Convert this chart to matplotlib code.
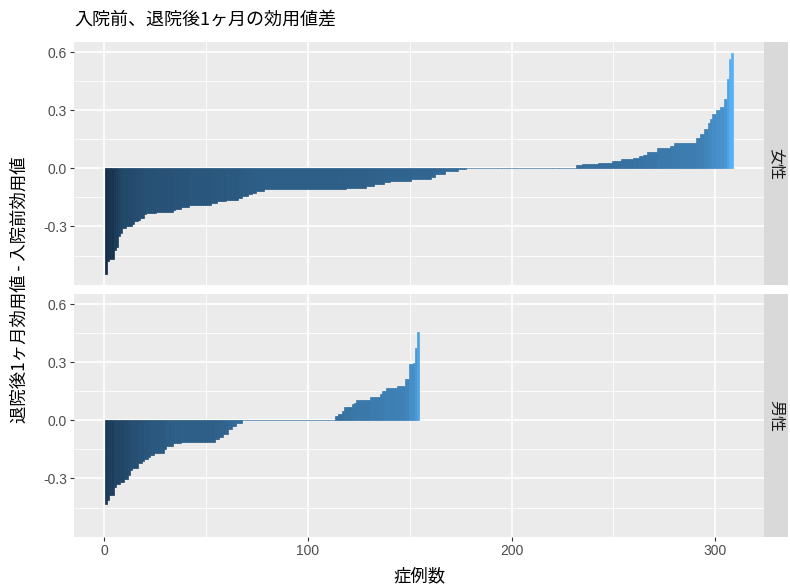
import numpy as np
import matplotlib
matplotlib.use("Agg")
import matplotlib.pyplot as plt
from matplotlib.colors import LinearSegmentedColormap, Normalize
from matplotlib.ticker import MultipleLocator

plt.rcParams['font.family'] = ['Noto Sans CJK JP', 'DejaVu Sans']

# utility difference per patient, sorted ascending, stored as (value, count) runs
female_vals = [-0.545, -0.48, -0.466, -0.42, -0.407, -0.35, -0.333, -0.307, -0.30, -0.295,
               -0.285, -0.272, -0.264, -0.255, -0.238, -0.229, -0.226, -0.215, -0.209, -0.198,
               -0.188, -0.178, -0.167, -0.164, -0.152, -0.143, -0.134, -0.126, -0.117, -0.109,
               -0.100, -0.091, -0.083, -0.071, -0.066, -0.054, -0.043, -0.031, -0.014, -0.005,
               0.0,
               0.017, 0.024, 0.029, 0.038, 0.047, 0.055, 0.064, 0.069, 0.084, 0.107,
               0.115, 0.129, 0.133, 0.159, 0.179, 0.202, 0.236, 0.253, 0.279, 0.302,
               0.314, 0.357, 0.46, 0.564, 0.595]
female_cnt = [1, 1, 2, 1, 1, 1, 1, 2, 2, 1,
              1, 2, 1, 2, 1, 5, 8, 1, 3, 4,
              11, 3, 4, 6, 2, 3, 2, 2, 4, 40,
              10, 4, 5, 3, 10, 10, 2, 5, 6, 4,
              54,
              3, 8, 7, 4, 6, 3, 2, 2, 5, 6,
              2, 3, 8, 2, 2, 2, 1, 1, 2, 2,
              2, 1, 1, 1, 1]

male_vals = [-0.434, -0.41, -0.383, -0.344, -0.327, -0.318, -0.301, -0.28, -0.255, -0.246,
             -0.219, -0.21, -0.202, -0.19, -0.178, -0.168, -0.147, -0.13, -0.116, -0.11,
             -0.096, -0.087, -0.07, -0.045, -0.028, -0.012,
             0.0,
             0.02, 0.032, 0.049, 0.07, 0.084, 0.092, 0.104, 0.123, 0.135, 0.152,
             0.169, 0.177, 0.212, 0.289, 0.297, 0.371, 0.454]
male_cnt = [1, 1, 2, 1, 2, 2, 2, 1, 1, 3,
            2, 1, 2, 1, 2, 5, 1, 3, 4, 17,
            2, 2, 2, 2, 2, 3,
            46,
            1, 2, 1, 4, 1, 1, 7, 5, 1, 2,
            5, 4, 2, 2, 1, 1, 1]

panels = [("女性", np.repeat(female_vals, female_cnt)),
          ("男性", np.repeat(male_vals, male_cnt))]

cmap = LinearSegmentedColormap.from_list("gg", ["#132B43", "#56B1F7"])
all_vals = np.concatenate([p[1] for p in panels])
norm = Normalize(all_vals.min(), all_vals.max())

W, H = 790, 586
fig = plt.figure(figsize=(W / 100, H / 100), dpi=100)
fig.patch.set_facecolor("white")

left, right = 74, 764
tops = [42, 294]
ph = 243
strip_w = 24

for (label, vals), top in zip(panels, tops):
    ax = fig.add_axes([left / W, (H - top - ph) / H, (right - left) / W, ph / H])
    ax.set_facecolor("#EBEBEB")
    x = np.arange(1, len(vals) + 1)
    cols = cmap(norm(vals))
    ax.bar(x, vals, width=1.0, color=cols, edgecolor=cols, linewidth=0.5, zorder=3)

    ax.set_xlim(-14.9, 323.9)
    ax.set_ylim(-0.602, 0.652)
    ax.xaxis.set_major_locator(MultipleLocator(100))
    ax.xaxis.set_minor_locator(MultipleLocator(50))
    ax.yaxis.set_major_locator(MultipleLocator(0.3))
    ax.yaxis.set_minor_locator(MultipleLocator(0.15))
    ax.grid(which="major", color="white", linewidth=1.2, zorder=1)
    ax.grid(which="minor", color="white", linewidth=0.6, zorder=1)
    ax.set_axisbelow(True)
    for s in ax.spines.values():
        s.set_visible(False)
    ax.set_yticks([-0.3, 0.0, 0.3, 0.6])
    ax.set_yticklabels(["-0.3", "0.0", "0.3", "0.6"])
    ax.tick_params(axis="both", which="major", length=3, width=0.8, color="#333333",
                   labelcolor="#4D4D4D", labelsize=10, pad=2)
    ax.tick_params(axis="both", which="minor", length=0)
    for t in ax.get_xticklabels() + ax.get_yticklabels():
        t.set_family(["Liberation Sans", "DejaVu Sans"])
    if top == tops[0]:
        ax.tick_params(axis="x", which="major", length=0, labelbottom=False)

    # facet strip on the right
    sax = fig.add_axes([right / W, (H - top - ph) / H, strip_w / W, ph / H])
    sax.set_facecolor("#D9D9D9")
    sax.set_xticks([])
    sax.set_yticks([])
    for s in sax.spines.values():
        s.set_visible(False)
    sax.text(0.5, 0.5, label, rotation=-90, ha="center", va="center",
             fontsize=11.5, color="#1A1A1A", transform=sax.transAxes)

fig.text(left / W, 1 - 20 / H, "入院前、退院後1ヶ月の効用値差", ha="left", va="center",
         fontsize=13, color="black")
fig.text((left + right) / 2 / W, 1 - 576 / H, "症例数", ha="center", va="center",
         fontsize=12.5, color="black")
fig.text(20 / W, 1 - 290 / H, "退院後1ヶ月効用値 - 入院前効用値", ha="center", va="center",
         rotation=90, fontsize=12.5, color="black")

fig.savefig("out.png", dpi=100)
